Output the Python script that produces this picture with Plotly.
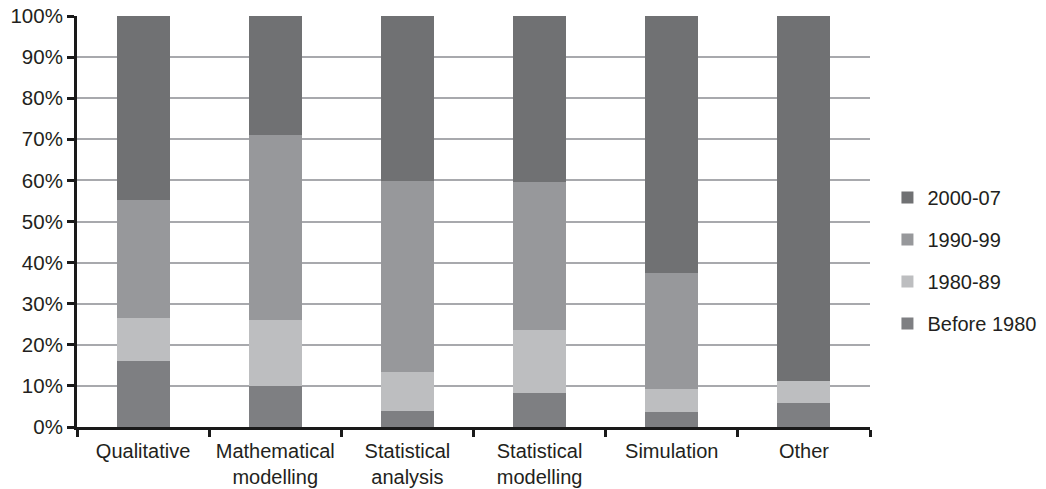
import plotly.graph_objects as go

categories = ["Qualitative", "Mathematical<br>modelling", "Statistical<br>analysis",
              "Statistical<br>modelling", "Simulation", "Other"]
series_names = ["Before 1980", "1980-89", "1990-99", "2000-07"]
before_1980 = [16.0, 10.0, 4.0, 8.3, 3.7, 5.8]
y1980_89 = [10.5, 16.1, 9.4, 15.3, 5.6, 5.4]
y1990_99 = [28.8, 45.0, 46.5, 36.1, 28.2, 0.0]
y2000_07 = [44.7, 28.9, 40.1, 40.3, 62.5, 88.8]
y_ticks = [0, 10, 20, 30, 40, 50, 60, 70, 80, 90, 100]
y_tick_labels = [f"{v}%" for v in y_ticks]

series_values = [before_1980, y1980_89, y1990_99, y2000_07]
colors = ["#7e7f82", "#bdbec0", "#97989b", "#707173"]
legend_ranks = [4, 3, 2, 1]

FONT = "Liberation Sans, Arial, Helvetica, sans-serif"
TXT = "#231f20"

fig = go.Figure()
for name, vals, col, rk in zip(series_names, series_values, colors, legend_ranks):
    fig.add_trace(go.Bar(
        x=categories, y=vals, name=name, legendgroup=name, legendrank=rk,
        marker=dict(color=col, line=dict(width=0)),
    ))

fig.update_layout(
    width=1046, height=489,
    barmode="stack", bargap=0.6,
    plot_bgcolor="white", paper_bgcolor="white",
    margin=dict(l=77, r=176, t=16, b=62, autoexpand=False),
    font=dict(family=FONT, size=20, color=TXT),
    showlegend=True,
    legend=dict(
        traceorder="grouped", tracegroupgap=13,
        x=1.022, xanchor="left", y=0.405, yanchor="middle",
        font=dict(family=FONT, size=20, color=TXT),
        bgcolor="rgba(0,0,0,0)",
    ),
    xaxis=dict(
        type="category", tickson="boundaries", ticks="outside", ticklen=7,
        tickwidth=2.5, tickcolor="#1a1a1a", tickangle=0, automargin=False,
        ticklabelstandoff=4,
        showline=True, linecolor="#1a1a1a", linewidth=3,
        showgrid=False, zeroline=False,
        tickfont=dict(family=FONT, size=20, color=TXT),
    ),
    yaxis=dict(
        range=[0, 100], tickmode="array", tickvals=y_ticks, ticktext=y_tick_labels,
        ticks="outside", ticklen=7, tickwidth=2.5, tickcolor="#1a1a1a",
        automargin=False, ticklabeloverflow="allow",
        showline=True, linecolor="#1a1a1a", linewidth=3,
        showgrid=True, gridcolor="#a8a9ad", gridwidth=1.6,
        zeroline=False,
        tickfont=dict(family=FONT, size=20.5, color=TXT),
    ),
)

# remove the browser's default 8px page margin so the figure fills the window
fig.write_html("out.html", config={"displayModeBar": False},
               post_script="document.body.style.margin='0';")
